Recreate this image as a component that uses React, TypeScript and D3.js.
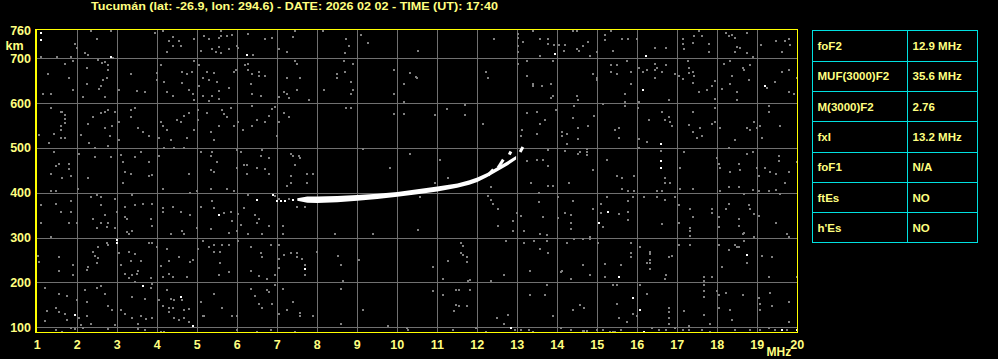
import React from "react";
import * as d3 from "d3";

const TITLE = "Tucumán (lat: -26.9, lon: 294.6) - DATE: 2026 02 02 - TIME (UT): 17:40";
const xTicks = [1, 2, 3, 4, 5, 6, 7, 8, 9, 10, 11, 12, 13, 14, 15, 16, 17, 18, 19, 20];
const yTicks = [100, 200, 300, 400, 500, 600, 700];
const yTopLabel = 760;
const tableParams = ["foF2", "MUF(3000)F2", "M(3000)F2", "fxI", "foF1", "ftEs", "h'Es"];
const tableValues = ["12.9 MHz", "35.6 MHz", "2.76", "13.2 MHz", "N/A", "NO", "NO"];

// O-trace (frequency MHz, lower / upper virtual height km)
const traceF = [7.5, 7.75, 8.0, 8.5, 9.0, 9.5, 10.0, 10.5, 11.0, 11.5, 11.8, 12.0, 12.25, 12.5, 12.75, 12.97];
const traceLo = [382, 378, 377, 379, 382, 386, 391, 397, 403, 411, 418, 424, 435, 448, 461, 474];
const traceHi = [388, 392, 392, 393, 395, 398, 402, 408, 414, 421, 428, 434, 444, 457, 470, 482];
// extra echo segments [f0, h0, f1, h1]
const echoSegs = [
  [12.27, 439, 12.4, 452],
  [12.52, 456, 12.65, 474],
  [12.8, 485, 12.84, 492],
  [13.07, 491, 13.14, 502],
];

const noiseWhite = [
  [1.08, 756], [1.08, 741], [2.83, 703], [6.23, 707], [13.93, 709], [16.22, 706], [16.13, 630], [19.18, 639],
  [16.58, 509], [16.58, 471], [16.58, 456], [5.53, 351], [2.98, 295], [2.98, 287], [7.68, 229], [3.63, 192],
  [4.58, 167], [1.93, 128], [4.88, 103], [15.05, 332], [15.28, 357], [15.53, 212], [18.73, 262], [15.88, 166],
  [16.08, 139], [12.83, 99], [16.18, 90], [19.63, 94], [19.98, 94], [6.48, 383], [6.9, 396], [7.0, 382],
  [7.1, 382], [7.2, 382], [7.38, 384],
];

const noiseGray = [
  [1.95, 732], [2.0, 724], [1.08, 703], [1.5, 703], [1.83, 703], [2.2, 712], [2.26, 707], [2.33, 762], [2.48, 743],
  [2.83, 762], [2.9, 700], [3.94, 756], [4.13, 762], [4.28, 739], [4.38, 747], [4.55, 739], [4.4, 728], [4.23, 713],
  [4.6, 727], [4.93, 742], [5.1, 717], [5.18, 749], [5.3, 742], [5.38, 721], [5.47, 713], [5.53, 725], [5.53, 745],
  [5.6, 762], [5.6, 750], [5.73, 749], [5.88, 752], [5.6, 712], [5.8, 721], [6.0, 728], [6.03, 722], [6.4, 707],
  [6.28, 754], [6.68, 743], [6.88, 745], [7.03, 721], [7.23, 715], [7.38, 747], [7.43, 762], [8.15, 762], [8.73, 742],
  [8.8, 728], [8.7, 712], [9.1, 752], [9.28, 734],
  [1.27, 666], [1.68, 688], [1.88, 693], [1.78, 657], [1.88, 630], [1.13, 620], [1.33, 620], [2.13, 613], [2.23, 679],
  [2.23, 643], [2.52, 697], [2.62, 690], [2.68, 691], [2.78, 685], [2.78, 675], [2.73, 655], [2.63, 652], [2.58, 639],
  [2.55, 631], [2.7, 613], [3.03, 630], [3.33, 666], [3.48, 627], [3.68, 625], [3.98, 667], [3.98, 652], [4.08, 684],
  [4.17, 648], [4.25, 625], [4.38, 616], [4.63, 670], [4.63, 646], [4.73, 666], [4.87, 670], [4.8, 630], [4.88, 620],
  [4.93, 608], [4.93, 693], [5.05, 684], [5.05, 639], [5.13, 655], [5.23, 670], [5.28, 652], [5.37, 615], [5.43, 667],
  [5.5, 648], [5.53, 628], [5.53, 609], [5.3, 605], [5.13, 617], [5.78, 633], [5.93, 669], [5.97, 675], [6.2, 684],
  [6.27, 687], [6.27, 675], [6.37, 664], [6.35, 643], [6.53, 670], [6.53, 660], [6.68, 660], [6.58, 617], [6.38, 620],
  [7.05, 613], [7.17, 624], [7.23, 620], [7.3, 611], [7.43, 693], [7.48, 688], [7.23, 655], [7.58, 657], [7.48, 630],
  [7.78, 608], [8.18, 630], [8.48, 666], [8.5, 657], [8.68, 693], [8.7, 670], [8.88, 688], [8.83, 648], [8.88, 630],
  [8.83, 621], [9.93, 675], [10.18, 643], [9.93, 620], [10.33, 667], [10.47, 658], [10.18, 603],
  [1.33, 590], [1.58, 581], [1.63, 581], [1.68, 574], [1.68, 565], [1.68, 556], [1.6, 550], [1.58, 541], [1.43, 532],
  [1.58, 523], [1.68, 523], [1.3, 510], [1.05, 529], [2.08, 530], [2.28, 554], [2.38, 568], [2.58, 577], [2.68, 581],
  [2.78, 584], [2.93, 581], [2.68, 545], [2.82, 526], [2.88, 548], [2.3, 510], [3.03, 559], [3.33, 568], [3.43, 590],
  [3.33, 585], [3.53, 545], [3.63, 536], [3.78, 527], [3.03, 518], [4.03, 523], [4.08, 559], [4.13, 550], [4.23, 541],
  [4.33, 518], [4.48, 563], [4.58, 559], [4.68, 572], [4.78, 577], [4.73, 523], [4.93, 541], [5.03, 563], [5.03, 585],
  [5.23, 577], [5.33, 536], [5.43, 518], [5.53, 550], [5.63, 585], [5.68, 575], [5.73, 568], [5.83, 590], [5.93, 550],
  [6.03, 559], [6.13, 541], [6.38, 594], [6.38, 550], [6.48, 563], [6.68, 559], [6.78, 572], [6.93, 591], [6.88, 587],
  [6.98, 527], [7.03, 559], [7.18, 577], [7.28, 568], [8.73, 590], [8.83, 590], [9.93, 575], [10.18, 575],
  [1.43, 492], [1.78, 465], [1.53, 465], [1.78, 453], [1.33, 441], [1.48, 459], [1.63, 434], [1.83, 438], [2.03, 487],
  [2.43, 480], [2.43, 501], [2.28, 434], [2.78, 504], [2.83, 480], [3.08, 484], [3.13, 469], [3.18, 447], [3.33, 443],
  [3.43, 480], [3.58, 492], [3.78, 468], [3.78, 438], [3.88, 440], [4.03, 483], [4.18, 501], [4.43, 501], [4.68, 501],
  [4.78, 443], [5.08, 492], [5.33, 483], [5.38, 492], [5.48, 469], [5.33, 450], [5.43, 447], [5.98, 496], [6.08, 492],
  [5.98, 456], [6.18, 461], [6.23, 461], [6.48, 456], [6.68, 452], [6.23, 443], [6.78, 443], [6.63, 496], [6.58, 483],
  [6.78, 478], [7.33, 487], [7.38, 483], [7.53, 483], [7.58, 477], [7.43, 461], [7.33, 438], [7.73, 443], [7.88, 443],
  [9.13, 498], [9.83, 456], [10.33, 487],
  [10.53, 716], [12.43, 743], [13.03, 754], [13.03, 746], [13.13, 737], [13.03, 728], [13.03, 713], [13.38, 761],
  [13.58, 743], [13.78, 743], [13.92, 729], [13.77, 732], [13.58, 706], [14.05, 729], [14.18, 729], [14.17, 717],
  [14.4, 761], [14.48, 761], [14.48, 720], [14.55, 717], [14.63, 728], [14.77, 737], [14.82, 706], [15.0, 713],
  [15.18, 752], [15.18, 741], [15.33, 761], [15.38, 716], [15.63, 743], [15.78, 743], [16.0, 743], [16.43, 724],
  [16.73, 724], [17.13, 743], [17.13, 732], [17.17, 720], [17.38, 734], [17.43, 749], [17.53, 761], [17.63, 750],
  [17.78, 732], [17.78, 713], [18.23, 756], [18.28, 749], [18.38, 752], [18.43, 746], [18.48, 726], [18.58, 724],
  [18.43, 713], [18.73, 756], [18.73, 711], [18.88, 702], [19.1, 729], [19.48, 739], [19.68, 739], [19.63, 713],
  [19.78, 743], [19.83, 729],
  [10.48, 657], [12.22, 670], [12.27, 657], [13.03, 688], [13.23, 693], [13.23, 661], [13.38, 643], [13.4, 639],
  [13.62, 639], [13.83, 643], [13.88, 693], [13.83, 612], [13.88, 617], [14.48, 617], [14.53, 608], [14.88, 666],
  [14.98, 657], [14.98, 652], [15.33, 684], [15.33, 670], [15.48, 666], [15.48, 684], [15.73, 693], [15.83, 670],
  [15.83, 643], [16.03, 679], [16.13, 670], [16.23, 675], [16.43, 688], [16.43, 675], [16.5, 679], [16.63, 670],
  [16.73, 684], [16.43, 657], [15.68, 621], [15.68, 603], [16.03, 603], [16.78, 607], [16.93, 666], [17.03, 661],
  [17.15, 653], [17.27, 693], [17.3, 679], [17.28, 668], [17.38, 670], [17.43, 661], [17.38, 645], [17.53, 625],
  [17.73, 630], [17.93, 649], [17.88, 639], [17.93, 610], [18.13, 631], [18.17, 688], [18.33, 693], [18.38, 661],
  [18.33, 643], [18.48, 625], [18.48, 607], [18.63, 679], [18.68, 675], [18.78, 652], [18.83, 684], [19.23, 634],
  [19.43, 648], [19.63, 670], [19.78, 675], [19.78, 625], [19.93, 621], [19.98, 657],
  [10.93, 573], [11.23, 587], [11.68, 595], [11.68, 573], [12.13, 554], [13.23, 578], [13.48, 581], [13.58, 554],
  [13.68, 563], [13.12, 541], [13.08, 527], [13.48, 532], [13.98, 585], [14.13, 535], [14.13, 527], [14.25, 532],
  [14.23, 509], [14.38, 567], [14.43, 593], [14.53, 545], [14.53, 521], [14.77, 550], [14.92, 572], [15.13, 598],
  [15.43, 541], [15.53, 545], [15.53, 523], [15.68, 594], [16.02, 590], [16.03, 520], [16.23, 514], [16.28, 563],
  [16.63, 581], [16.68, 563], [16.78, 570], [16.83, 559], [16.88, 550], [17.3, 551], [17.4, 581], [17.38, 536],
  [17.48, 523], [17.58, 545], [17.63, 527], [17.88, 554], [17.93, 590], [17.93, 557], [18.08, 545], [18.43, 518],
  [18.73, 545], [18.83, 541], [18.93, 559], [18.98, 544], [19.08, 550], [19.13, 523], [19.28, 594], [19.28, 581],
  [19.58, 550],
  [11.07, 474], [11.28, 434], [13.23, 471], [13.48, 474], [13.63, 474], [13.78, 459], [13.78, 496], [14.18, 494],
  [14.53, 487], [14.58, 492], [14.73, 497], [14.73, 491], [14.73, 485], [14.88, 450], [15.23, 474], [15.5, 438],
  [15.63, 433], [15.93, 438], [16.03, 500], [16.58, 494], [16.68, 433], [17.08, 456], [17.18, 491], [17.98, 478],
  [18.03, 465], [18.08, 456], [18.28, 499], [18.33, 447], [18.53, 465], [18.58, 451], [18.73, 487], [18.88, 491],
  [18.98, 456], [19.03, 438], [19.18, 456], [19.33, 447], [19.53, 483], [19.53, 471], [19.78, 447], [19.98, 469],
  [19.48, 442],
  [1.33, 403], [1.48, 403], [2.02, 409], [3.13, 421], [4.13, 409], [4.83, 399], [4.98, 404], [5.33, 409], [5.73, 409],
  [5.93, 403], [7.23, 416], [7.33, 421], [7.73, 421],
  [1.08, 372], [1.48, 375], [1.83, 381], [1.58, 358], [1.83, 358], [2.33, 390], [2.48, 394], [2.58, 390], [2.58, 372],
  [2.93, 387], [2.98, 358], [2.68, 351], [2.38, 341], [2.48, 321], [2.58, 332], [2.73, 324], [2.78, 332], [2.93, 321],
  [1.08, 332], [1.78, 332], [1.98, 332], [1.33, 301], [3.18, 369], [3.18, 345], [3.23, 341], [3.38, 394], [3.43, 372],
  [3.63, 375], [3.88, 375], [3.83, 341], [3.88, 327], [3.23, 312], [3.28, 308], [3.38, 314], [4.13, 366], [4.13, 358],
  [4.38, 369], [4.58, 358], [4.33, 309], [4.63, 314], [4.68, 309], [4.83, 351], [4.98, 321], [5.08, 369], [5.38, 381],
  [5.43, 366], [5.33, 320], [5.68, 354], [5.83, 358], [5.88, 336], [5.78, 311], [6.03, 353], [6.08, 329], [5.98, 314],
  [6.18, 367], [6.28, 394], [6.43, 350], [6.48, 332], [6.53, 341], [6.78, 327], [6.63, 309], [6.28, 309], [7.13, 327],
  [7.13, 309], [7.48, 369], [7.68, 369], [8.43, 307], [9.38, 307], [6.95, 392], [7.05, 386], [7.3, 387],
  [1.02, 260], [1.03, 246], [1.53, 256], [1.53, 226], [1.88, 238], [1.88, 216], [2.38, 268], [2.43, 260], [2.53, 278],
  [2.53, 255], [2.48, 243], [2.28, 235], [2.23, 228], [2.73, 287], [2.78, 283], [3.03, 265], [3.08, 238], [3.18, 219],
  [3.28, 268], [3.43, 263], [3.33, 247], [3.28, 210], [3.38, 216], [3.48, 219], [3.53, 225], [3.58, 247], [3.43, 200],
  [3.78, 287], [3.88, 287], [3.83, 210], [3.98, 278], [4.08, 237], [4.13, 212], [4.23, 274], [4.28, 247], [4.28, 220],
  [4.38, 212], [4.53, 256], [4.73, 212], [4.83, 246], [4.88, 250], [5.03, 274], [5.13, 292], [5.28, 278], [5.43, 283],
  [5.43, 269], [5.58, 268], [5.63, 283], [5.78, 283], [5.58, 243], [5.53, 216], [5.78, 223], [6.03, 292], [6.33, 278],
  [6.58, 266], [6.63, 256], [6.33, 225], [6.53, 214], [6.73, 207], [6.83, 284], [6.93, 216], [7.03, 283], [7.03, 252],
  [7.03, 232], [7.18, 262], [7.33, 266], [7.48, 266], [7.48, 256], [7.63, 253], [7.68, 238], [7.68, 217], [7.98, 268],
  [8.53, 260], [8.58, 238], [9.03, 250], [8.63, 203],
  [1.18, 188], [1.53, 174], [1.73, 170], [2.18, 183], [2.48, 188], [2.58, 192], [2.68, 174], [1.98, 161], [2.23, 157],
  [3.83, 188], [3.88, 197], [3.38, 168], [3.68, 164], [4.03, 161], [4.23, 183], [4.33, 164], [4.43, 161], [4.63, 161],
  [4.13, 148], [4.28, 142], [4.38, 142], [4.68, 139], [4.78, 140], [4.28, 134], [4.43, 121], [4.53, 117], [4.68, 121],
  [4.78, 112], [1.48, 143], [1.53, 134], [1.68, 130], [1.73, 117], [2.03, 121], [2.23, 125], [2.33, 108], [1.83, 99],
  [2.08, 106], [1.18, 114], [1.23, 136], [2.78, 148], [2.88, 139], [3.08, 139], [3.18, 130], [3.38, 121], [3.58, 125],
  [3.73, 118], [3.88, 121], [3.53, 108], [2.93, 106], [5.08, 157], [5.13, 125], [5.18, 125], [5.43, 174], [5.63, 143],
  [5.88, 125], [5.98, 125], [6.33, 185], [6.43, 170], [6.53, 152], [6.63, 143], [6.73, 183], [6.78, 179], [6.93, 194],
  [6.88, 152], [7.03, 130], [7.13, 185], [7.23, 139], [7.38, 157], [7.58, 133], [7.58, 125], [7.88, 125], [8.58, 185],
  [9.13, 139], [8.58, 108], [9.78, 102], [10.23, 99],
  [1.48, 94], [1.63, 90], [1.93, 96], [2.13, 99], [2.78, 97], [3.53, 96], [3.68, 94], [4.08, 90], [4.18, 90], [5.98, 94],
  [6.48, 90], [6.83, 94], [7.43, 90], [10.28, 94],
  [10.93, 422], [12.33, 414], [13.35, 422], [13.78, 416], [13.88, 416], [14.28, 422], [15.63, 409], [15.78, 403],
  [15.93, 403], [16.48, 403], [16.63, 403], [16.68, 422], [16.83, 422], [17.08, 409], [17.38, 409], [18.08, 403],
  [18.28, 414], [18.53, 413], [18.68, 397], [18.88, 407], [19.03, 403], [19.28, 403], [19.48, 407], [19.58, 397],
  [19.68, 422],
  [10.58, 391], [12.28, 393], [12.33, 384], [12.38, 376], [12.53, 364], [12.53, 326], [12.98, 354], [12.88, 336],
  [12.88, 314], [13.08, 348], [13.18, 314], [13.53, 399], [13.53, 379], [13.63, 345], [13.58, 309], [13.73, 305],
  [14.03, 391], [14.03, 344], [14.18, 354], [14.33, 351], [14.38, 381], [14.33, 332], [14.33, 320], [14.43, 296],
  [14.63, 296], [14.83, 301], [14.88, 363], [15.08, 376], [15.08, 354], [15.13, 324], [15.23, 390], [15.53, 352],
  [15.78, 358], [15.78, 381], [15.78, 339], [15.88, 390], [16.18, 390], [16.48, 390], [16.63, 330], [16.68, 384],
  [16.93, 390], [17.03, 372], [17.03, 332], [17.33, 363], [17.33, 321], [17.33, 314], [17.33, 303], [17.38, 345],
  [17.88, 363], [17.88, 354], [18.03, 345], [18.03, 324], [18.23, 363], [18.28, 375], [18.53, 341], [18.53, 326],
  [18.63, 307], [18.68, 311], [18.78, 372], [18.83, 363], [18.93, 353], [18.93, 302], [19.03, 348], [19.48, 332],
  [19.73, 307], [19.78, 302],
  [10.53, 318], [10.88, 234], [11.28, 247], [11.58, 287], [11.63, 281], [11.58, 266], [11.63, 262], [11.73, 256],
  [11.73, 246], [11.13, 207], [11.78, 204], [11.83, 206], [12.33, 203], [12.68, 216], [12.73, 292], [13.18, 287],
  [13.33, 225], [13.43, 292], [13.58, 274], [13.73, 293], [13.78, 265], [14.08, 223], [14.13, 226], [14.23, 289],
  [14.33, 207], [14.63, 240], [14.83, 296], [14.83, 216], [15.03, 287], [15.18, 241], [15.18, 212], [15.58, 240],
  [15.83, 287], [15.83, 265], [15.83, 256], [16.08, 280], [16.23, 244], [16.33, 269], [16.33, 263], [16.33, 250],
  [16.33, 244], [16.33, 231], [16.68, 207], [16.73, 217], [16.88, 260], [16.78, 256], [17.03, 283], [17.33, 283],
  [17.68, 212], [17.88, 212], [18.03, 283], [18.13, 234], [18.28, 272], [18.43, 283], [18.48, 278], [18.53, 278],
  [18.68, 292], [18.73, 243], [19.13, 260], [19.28, 212], [19.38, 256], [19.98, 212],
  [10.88, 180], [11.13, 171], [11.48, 183], [11.53, 183], [11.83, 183], [11.48, 149], [11.53, 148], [11.43, 136],
  [11.73, 148], [12.48, 121], [12.68, 108], [12.78, 127], [13.33, 171], [13.68, 171], [13.73, 194], [13.88, 125],
  [14.38, 139], [14.58, 149], [14.68, 143], [15.38, 194], [15.48, 194], [15.48, 152], [15.53, 121], [15.73, 112],
  [15.88, 130], [15.98, 125], [16.08, 195], [16.23, 174], [16.78, 143], [16.78, 134], [16.78, 121], [16.78, 108],
  [17.18, 136], [17.28, 103], [17.68, 203], [17.68, 195], [17.68, 182], [17.68, 167], [17.68, 128], [17.83, 108],
  [17.98, 182], [18.03, 173], [18.03, 143], [18.23, 176], [18.33, 139], [18.38, 117], [18.63, 171], [19.03, 166],
  [19.08, 152], [19.08, 139], [19.33, 176], [19.38, 148], [19.78, 157], [19.78, 112],
  [11.38, 94], [11.98, 99], [12.23, 90], [12.93, 94], [13.08, 94], [13.28, 94], [13.4, 90], [14.08, 99], [14.33, 94],
  [14.63, 91], [14.68, 91], [14.73, 91], [14.98, 94], [15.13, 94], [15.32, 90], [15.38, 90], [15.43, 90], [15.58, 94],
  [16.38, 99], [16.53, 94], [16.73, 94], [16.93, 99], [17.13, 94], [17.28, 94], [17.63, 94], [17.83, 90], [18.43, 94],
  [18.83, 94], [19.08, 94], [19.28, 99], [19.43, 94], [19.73, 94],
];

const TEXT = "#ffff80";
const FRAME = "#ffff00";
const GRID = "#707070";
const DOT = "#808080";
const CYAN = "#00e0e0";
const FONT = "'Liberation Sans', Arial, sans-serif";

const px = (v: number) => Math.round(v) + 0.5;

export default function App() {
  const W = 998;
  const H = 359;
  const x = d3.scaleLinear().domain([1, 20]).range([37.3, 797.3]);
  const y = d3.scaleLinear().domain([100, 700]).range([327.3, 58.3]);
  const frameTop = px(y(765));
  const frameBottom = px(y(87)) - 1;
  const frameLeft = 35.5;
  const frameRight = 797.5;

  const idx = traceF.map((_, i) => i);
  const area = d3
    .area<number>()
    .x((i) => x(traceF[i]))
    .y0((i) => y(traceLo[i]))
    .y1((i) => y(traceHi[i]));
  const seg = d3.line<[number, number]>().x((d) => x(d[0])).y((d) => y(d[1]));

  const tX0 = 812.5;
  const tX1 = 977.5;
  const tMid = 907.5;
  const tY0 = 30.5;
  const rowH = (242.3 - 30.3) / tableParams.length;

  return (
    <>
      <style>{`html,body{margin:0;padding:0;background:#000;}`}</style>
      <svg width={W} height={H} style={{ display: "block", background: "#000" }} fontFamily={FONT} fontWeight="bold">
        <rect x={0} y={0} width={W} height={H} fill="#000" />
        <text x={294.5} y={10} fill={TEXT} fontSize={10.5} textAnchor="middle" textLength={407} lengthAdjust="spacingAndGlyphs">
          {TITLE}
        </text>

        {/* grid */}
        <g shapeRendering="crispEdges">
          {xTicks.slice(1, -1).map((t) => (
            <line key={"gx" + t} x1={px(x(t))} x2={px(x(t))} y1={frameTop} y2={frameBottom} stroke={GRID} strokeWidth={1} />
          ))}
          {yTicks.map((t) => (
            <line key={"gy" + t} x1={frameLeft} x2={frameRight} y1={px(y(t))} y2={px(y(t))} stroke={GRID} strokeWidth={1} />
          ))}
        </g>

        {/* noise */}
        <g shapeRendering="crispEdges">
          {noiseGray.map((d, i) => (
            <rect key={"n" + i} x={Math.round(x(d[0])) - 1} y={Math.round(y(d[1])) - 1} width={2} height={2} fill={DOT} />
          ))}
          {noiseWhite.map((d, i) => (
            <rect key={"w" + i} x={Math.round(x(d[0])) - 1} y={Math.round(y(d[1])) - 1} width={2} height={2} fill="#fff" />
          ))}
        </g>

        {/* trace */}
        <path d={area(idx) || ""} fill="#fff" />
        {echoSegs.map((s, i) => (
          <path key={"e" + i} d={seg([[s[0], s[1]], [s[2], s[3]]]) || ""} stroke="#fff" strokeWidth={3} fill="none" />
        ))}

        {/* frame */}
        <g stroke={FRAME} shapeRendering="crispEdges">
          <line x1={frameLeft - 1} x2={frameRight + 0.5} y1={frameTop} y2={frameTop} strokeWidth={1} />
          <line x1={frameLeft - 1} x2={frameRight + 0.5} y1={frameBottom} y2={frameBottom} strokeWidth={1.5} />
          <line x1={frameLeft} x2={frameLeft} y1={frameTop} y2={frameBottom} strokeWidth={2} />
          <line x1={frameRight} x2={frameRight} y1={frameTop} y2={frameBottom} strokeWidth={1} />
        </g>

        {/* y labels */}
        {yTicks.map((t) => (
          <text key={"yl" + t} x={31} y={y(t) + 4.5} fill={TEXT} fontSize={12.5} textAnchor="end">
            {t}
          </text>
        ))}
        <text x={31} y={y(yTopLabel) + 4} fill={TEXT} fontSize={12.5} textAnchor="end">
          {yTopLabel}
        </text>
        <text x={5.5} y={49.5} fill={TEXT} fontSize={12.5}>
          km
        </text>

        {/* x labels */}
        {xTicks.map((t) => (
          <text key={"xl" + t} x={x(t)} y={348.5} fill={TEXT} fontSize={12.5} textAnchor="middle">
            {t}
          </text>
        ))}
        <text x={766.5} y={355.7} fill={TEXT} fontSize={12}>
          MHz
        </text>

        {/* table */}
        <g shapeRendering="crispEdges">
          <rect x={tX0} y={tY0} width={tX1 - tX0} height={Math.round(rowH * tableParams.length)} fill="#000" stroke={CYAN} strokeWidth={1} />
          <line x1={tMid} x2={tMid} y1={tY0} y2={tY0 + Math.round(rowH * tableParams.length)} stroke={CYAN} strokeWidth={1} />
          {tableParams.slice(1).map((_, i) => (
            <line
              key={"tr" + i}
              x1={tX0}
              x2={tX1}
              y1={px(tY0 + rowH * (i + 1))}
              y2={px(tY0 + rowH * (i + 1))}
              stroke={CYAN}
              strokeWidth={1}
            />
          ))}
        </g>
        {tableParams.map((p, i) => (
          <text key={"tp" + i} x={817.5} y={tY0 + rowH * i + rowH / 2 + 4.5} fill={TEXT} fontSize={11.5}>
            {p}
          </text>
        ))}
        {tableValues.map((v, i) => (
          <text key={"tv" + i} x={912.5} y={tY0 + rowH * i + rowH / 2 + 4.5} fill={TEXT} fontSize={11.5}>
            {v}
          </text>
        ))}
      </svg>
    </>
  );
}
